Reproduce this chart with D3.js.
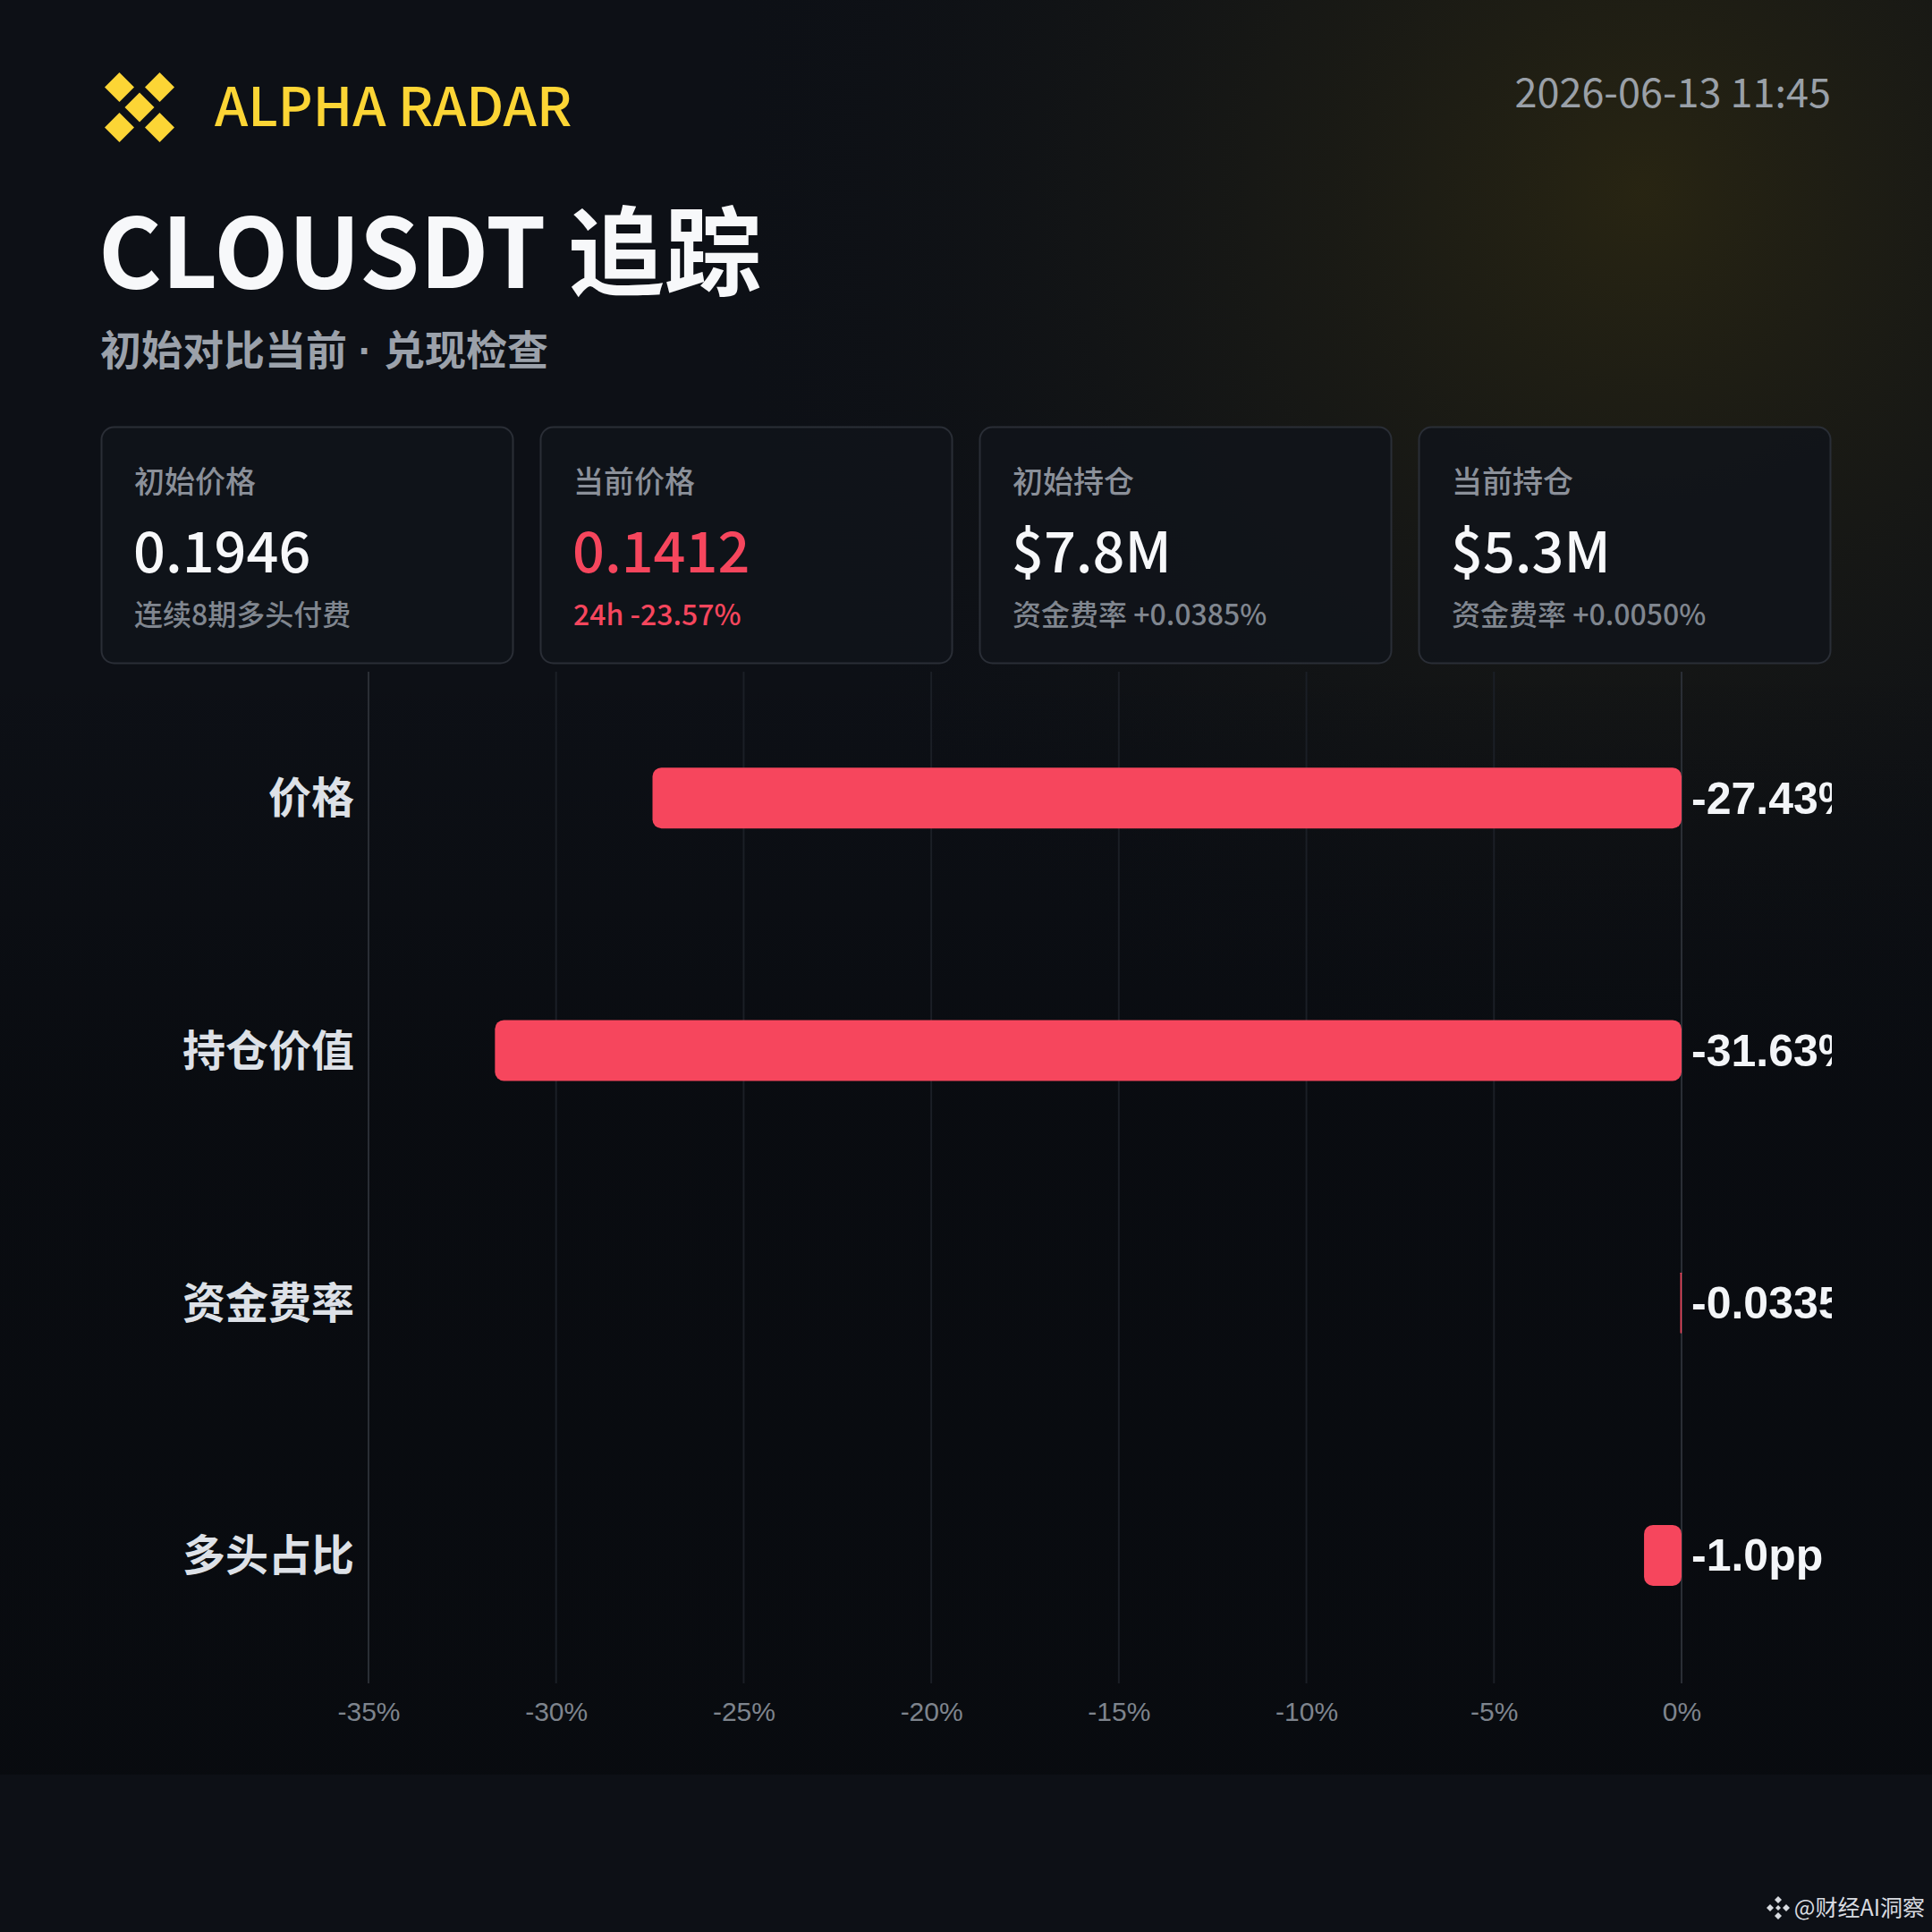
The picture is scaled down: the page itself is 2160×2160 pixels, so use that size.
<!DOCTYPE html>
<html>
<head>
<meta charset="utf-8">
<script src="https://cdn.jsdelivr.net/npm/d3@7"></script>
<style>
  body { margin: 0; background: #0c0f14; }
  svg { display: block; }
</style>
</head>
<body>
<div id="chart"></div>
<script>
// header
const brand = 'ALPHA RADAR';
const stamp = '2026-06-13 11:45';
const title = 'CLOUSDT 追踪';
const subtitleParts = ['初始对比当前', ' · ', '兑现检查'];
const watermark = '@财经AI洞察';

// summary cards
const cardTitles = ['初始价格', '当前价格', '初始持仓', '当前持仓'];
const cardValues = ['0.1946', '0.1412', '$7.8M', '$5.3M'];
const cardNotes = ['连续8期多头付费', '24h -23.57%', '资金费率 +0.0385%', '资金费率 +0.0050%'];
const cardAlert = [false, true, false, false];

// bar chart
const categories = ['价格', '持仓价值', '资金费率', '多头占比'];
const changes = [-27.43, -31.63, -0.0335, -1.0];
const valueLabels = ['-27.43%', '-31.63%', '-0.0335%', '-1.0pp'];
const tickValues = [-35, -30, -25, -20, -15, -10, -5, 0];

const W = 2160, H = 2160;
const RED = '#f6465d', YELLOW = '#fcd535';
const CJK = '"Noto Sans CJK SC", "Noto Sans", sans-serif';
const ARIAL = '"Liberation Sans", Arial, sans-serif';

const svg = d3.select('#chart')
    .append('svg')
    .attr('width', W)
    .attr('height', H);

const defs = svg.append('defs');

// background glow top right
const glow = defs.append('radialGradient')
    .attr('id', 'glow')
    .attr('cx', 0.85).attr('cy', 0.1).attr('r', 0.5);
glow.append('stop').attr('offset', '0%').attr('stop-color', '#2b2712').attr('stop-opacity', 0.9);
glow.append('stop').attr('offset', '55%').attr('stop-color', '#1c1c15').attr('stop-opacity', 0.4);
glow.append('stop').attr('offset', '100%').attr('stop-color', '#0c0f14').attr('stop-opacity', 0);

const panelGrad = defs.append('linearGradient')
    .attr('id', 'panel')
    .attr('x1', 0).attr('y1', 0).attr('x2', 0).attr('y2', 1);
panelGrad.append('stop').attr('offset', '0%').attr('stop-color', '#05070a').attr('stop-opacity', 0.0);
panelGrad.append('stop').attr('offset', '40%').attr('stop-color', '#05070a').attr('stop-opacity', 0.45);
panelGrad.append('stop').attr('offset', '100%').attr('stop-color', '#05070a').attr('stop-opacity', 0.55);

defs.append('clipPath').attr('id', 'plotClip')
    .append('rect')
    .attr('x', 0).attr('y', 0).attr('width', 2048).attr('height', H);

svg.append('rect').attr('width', W).attr('height', H).attr('fill', '#0d1016');
svg.append('rect').attr('width', W).attr('height', H).attr('fill', 'url(#glow)');
svg.append('rect')
    .attr('x', 0).attr('y', 740).attr('width', W).attr('height', 1244)
    .attr('fill', 'url(#panel)');

// logo: four corner diamonds + centre one
const logo = svg.append('g').attr('transform', 'translate(156,120)');
const d = 16.5, s = 22.5;
[[-1, -1], [1, -1], [0, 0], [-1, 1], [1, 1]].forEach(([i, j]) => {
    logo.append('path')
        .attr('d', `M${i * s},${j * s - d}L${i * s + d},${j * s}L${i * s},${j * s + d}L${i * s - d},${j * s}Z`)
        .attr('fill', YELLOW);
});

svg.append('text')
    .attr('x', 240).attr('y', 141)
    .style('font-family', CJK).style('font-size', '60px').style('font-weight', 500)
    .attr('fill', YELLOW)
    .text(brand);

svg.append('text')
    .attr('x', 2047).attr('y', 120)
    .attr('text-anchor', 'end')
    .style('font-family', CJK).style('font-size', '45px')
    .attr('fill', '#9aa0a8')
    .text(stamp);

svg.append('text')
    .attr('x', 110).attr('y', 322)
    .style('font-family', CJK).style('font-size', '108px').style('font-weight', 700)
    .attr('fill', '#f7f8fa')
    .text(title);

const sub = svg.append('text')
    .attr('x', 112).attr('y', 408)
    .style('font-family', CJK).style('font-size', '46px').style('font-weight', 700)
    .attr('fill', '#9ba1aa');
sub.selectAll('tspan')
    .data(subtitleParts)
    .join('tspan')
    .style('font-family', (p, i) => i === 1 ? ARIAL : CJK)
    .text(p => p);

// cards
const cardW = 461, cardGap = 30, cardTop = 477, cardH = 264;
const cardX = d3.scaleBand()
    .domain(d3.range(cardTitles.length))
    .range([113, 113 + 4 * cardW + 3 * cardGap])
    .paddingInner(cardGap / (cardW + cardGap));

const cards = svg.selectAll('g.card')
    .data(cardTitles)
    .join('g')
    .attr('class', 'card')
    .attr('transform', (t, i) => `translate(${cardX(i)},${cardTop})`);

cards.append('rect')
    .attr('x', 0.5).attr('y', 0.5)
    .attr('width', cardX.bandwidth() - 1).attr('height', cardH)
    .attr('rx', 14)
    .attr('fill', '#11141a').attr('fill-opacity', 0.85)
    .attr('stroke', '#2a2e36').attr('stroke-width', 2);

cards.append('text')
    .attr('x', 37).attr('y', 74)
    .style('font-family', CJK).style('font-size', '34px').style('font-weight', 500)
    .attr('fill', '#8b9099')
    .text(t => t);

cards.append('text')
    .attr('x', 36).attr('y', 163)
    .style('font-family', CJK).style('font-size', '63px').style('font-weight', 500)
    .attr('fill', (t, i) => cardAlert[i] ? RED : '#f7f8fa')
    .text((t, i) => cardValues[i]);

cards.append('text')
    .attr('x', 37).attr('y', 222)
    .style('font-family', CJK).style('font-size', '32px').style('font-weight', 500)
    .attr('fill', (t, i) => cardAlert[i] ? RED : '#80868f')
    .text((t, i) => cardNotes[i]);

// bar chart
const xScale = d3.scaleLinear()
    .domain([-35, 0])
    .range([412, 1880]);

const yScale = d3.scaleBand()
    .domain(categories)
    .range([751, 1880]);

const barH = 68;

svg.append('g')
    .selectAll('line')
    .data(tickValues)
    .join('line')
    .attr('x1', v => xScale(v)).attr('x2', v => xScale(v))
    .attr('y1', 751).attr('y2', 1882)
    .attr('stroke', v => (v === 0 || v === -35) ? '#2a2e35' : '#1b1f26')
    .attr('stroke-width', 2);

const xAxis = svg.append('g')
    .attr('transform', 'translate(0,1882)')
    .call(d3.axisBottom(xScale).tickValues(tickValues).tickFormat(v => v + '%').tickSize(0).tickPadding(21));
xAxis.select('.domain').remove();
xAxis.selectAll('text')
    .style('font-family', ARIAL).style('font-size', '30px')
    .attr('fill', '#7e848d');

svg.append('g')
    .selectAll('text')
    .data(categories)
    .join('text')
    .attr('x', 396)
    .attr('y', c => yScale(c) + yScale.bandwidth() / 2)
    .attr('dy', '0.36em')
    .attr('text-anchor', 'end')
    .style('font-family', CJK).style('font-size', '48px').style('font-weight', 700)
    .attr('fill', '#dde1e7')
    .text(c => c);

const plot = svg.append('g').attr('clip-path', 'url(#plotClip)');

plot.selectAll('rect.bar')
    .data(categories)
    .join('rect')
    .attr('class', 'bar')
    .attr('x', (c, i) => xScale(changes[i]))
    .attr('y', c => yScale(c) + yScale.bandwidth() / 2 - barH / 2)
    .attr('width', (c, i) => Math.max(1.5, xScale(0) - xScale(changes[i])))
    .attr('height', barH)
    .attr('rx', (c, i) => Math.min(10, (xScale(0) - xScale(changes[i])) / 2))
    .attr('fill', RED);

plot.selectAll('text.val')
    .data(categories)
    .join('text')
    .attr('class', 'val')
    .attr('x', xScale(0) + 11)
    .attr('y', c => yScale(c) + yScale.bandwidth() / 2)
    .attr('dy', '0.35em')
    .style('font-family', ARIAL).style('font-size', '50px').style('font-weight', 700)
    .attr('fill', '#f3f5f8')
    .text((c, i) => valueLabels[i]);

// watermark
const wm = svg.append('g').attr('transform', 'translate(1988,2133)');
[[0, -9], [9, 0], [0, 9], [-9, 0]].forEach(([a, b]) => {
    wm.append('path')
        .attr('d', `M${a},${b - 4}L${a + 4},${b}L${a},${b + 4}L${a - 4},${b}Z`)
        .attr('fill', '#d8dbe0');
});
wm.append('path').attr('d', 'M0,-3L3,0L0,3L-3,0Z').attr('fill', '#d8dbe0');
svg.append('text')
    .attr('x', 2152).attr('y', 2142)
    .attr('text-anchor', 'end')
    .style('font-family', CJK).style('font-size', '25px')
    .attr('fill', '#d8dbe0')
    .text(watermark);
</script>
</body>
</html>
